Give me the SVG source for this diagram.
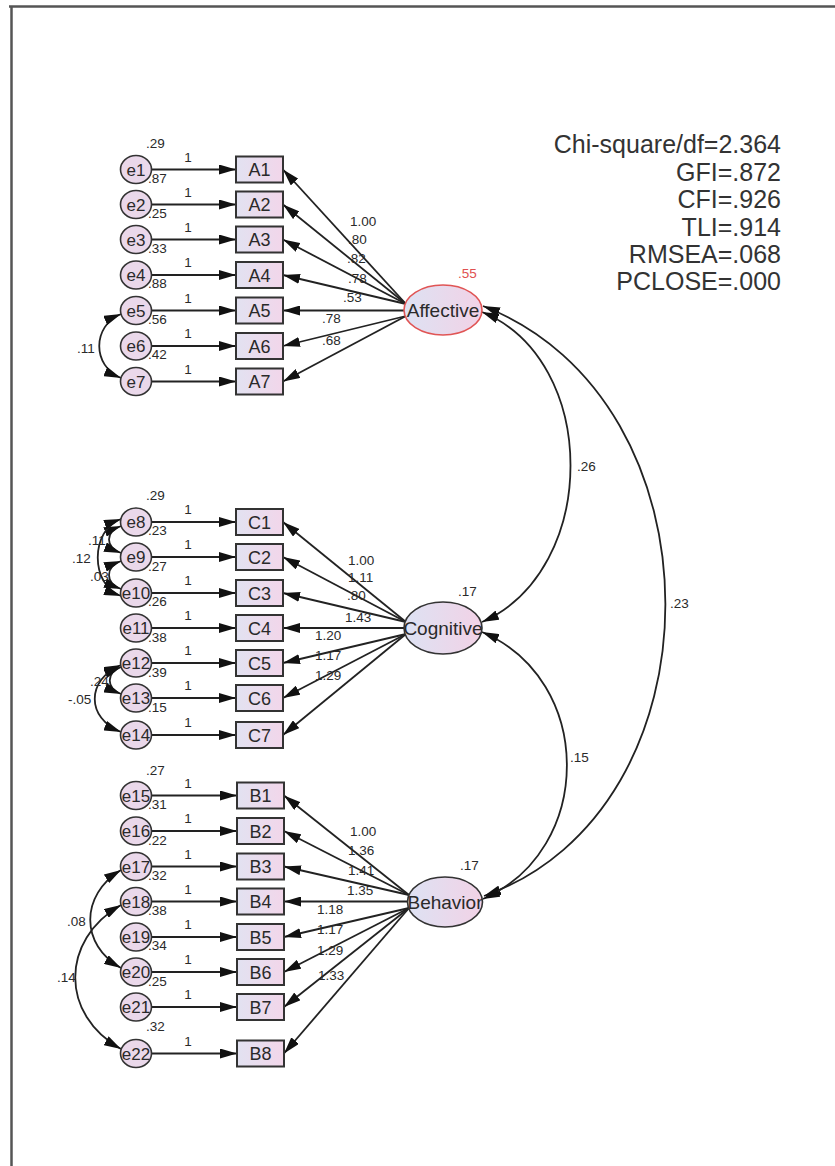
<svg xmlns="http://www.w3.org/2000/svg" width="835" height="1166" viewBox="0 0 835 1166">
<defs>
<style>
.fr{stroke:#555;stroke-width:2.5;fill:none}
.obs{fill:url(#gb);stroke:#333;stroke-width:2}
.err{fill:#ead8ea;stroke:#333;stroke-width:1.6}
.lat{fill:url(#ge);stroke:#333;stroke-width:1.6}
.ln{stroke:#222;stroke-width:1.8;fill:none}
.ah{marker-end:url(#ah)}
.dh{marker-start:url(#ah);marker-end:url(#ah)}
.t{font-family:"Liberation Sans",Arial,sans-serif;fill:#2a2a2a}
.bl{font-size:18px;text-anchor:middle}
.el{font-size:17px;text-anchor:middle}
.ll{font-size:19px;text-anchor:middle}
.sm{font-size:13.5px}
.one{font-size:13.5px;text-anchor:middle}
.st{font-size:25px;text-anchor:end;fill:#333}
.red{fill:#e05050}
</style>
<linearGradient id="gb" x1="0" y1="0" x2="1" y2="0"><stop offset="0" stop-color="#e2e2f1"/><stop offset="1" stop-color="#f2d6ea"/></linearGradient>
<linearGradient id="ge" x1="0" y1="0" x2="1" y2="0"><stop offset="0" stop-color="#dde2f3"/><stop offset="1" stop-color="#f2d2e6"/></linearGradient>
<marker id="ah" viewBox="0 0 17 10" refX="17" refY="5" markerWidth="17" markerHeight="10" markerUnits="userSpaceOnUse" orient="auto-start-reverse"><path d="M0,0 L17,5 L0,10 z" fill="#111"/></marker>
</defs>
<rect width="835" height="1166" fill="#fff"/>
<path class="fr" d="M9,6.5 H835 M11.5,6 V1166"/>

<g id="connectors">
<line class="ln ah" x1="151.5" y1="169.5" x2="236" y2="169.5"/>
<line class="ln ah" x1="151.5" y1="204.5" x2="236" y2="204.5"/>
<line class="ln ah" x1="151.5" y1="239.5" x2="236" y2="239.5"/>
<line class="ln ah" x1="151.5" y1="275" x2="236" y2="275"/>
<line class="ln ah" x1="151.5" y1="310.5" x2="236" y2="310.5"/>
<line class="ln ah" x1="151.5" y1="346" x2="236" y2="346"/>
<line class="ln ah" x1="151.5" y1="381.5" x2="236" y2="381.5"/>
<line class="ln ah" x1="151.5" y1="522" x2="236" y2="522"/>
<line class="ln ah" x1="151.5" y1="557" x2="236" y2="557"/>
<line class="ln ah" x1="151.5" y1="593" x2="236" y2="593"/>
<line class="ln ah" x1="151.5" y1="628" x2="236" y2="628"/>
<line class="ln ah" x1="151.5" y1="663" x2="236" y2="663"/>
<line class="ln ah" x1="151.5" y1="698" x2="236" y2="698"/>
<line class="ln ah" x1="151.5" y1="735" x2="236" y2="735"/>
<line class="ln ah" x1="151.5" y1="795.5" x2="237" y2="795.5"/>
<line class="ln ah" x1="151.5" y1="831" x2="237" y2="831"/>
<line class="ln ah" x1="151.5" y1="866.5" x2="237" y2="866.5"/>
<line class="ln ah" x1="151.5" y1="901.5" x2="237" y2="901.5"/>
<line class="ln ah" x1="151.5" y1="937" x2="237" y2="937"/>
<line class="ln ah" x1="151.5" y1="972" x2="237" y2="972"/>
<line class="ln ah" x1="151.5" y1="1007" x2="237" y2="1007"/>
<line class="ln ah" x1="151.5" y1="1053.5" x2="237" y2="1053.5"/>
<line class="ln ah" x1="406" y1="304" x2="283" y2="169.5"/>
<line class="ln ah" x1="406" y1="304" x2="283" y2="204.5"/>
<line class="ln ah" x1="406" y1="304" x2="283" y2="239.5"/>
<line class="ln ah" x1="406" y1="304" x2="283" y2="275"/>
<line class="ln ah" x1="404" y1="310.5" x2="283" y2="310.5"/>
<line class="ln ah" x1="406" y1="316" x2="283" y2="346"/>
<line class="ln ah" x1="406" y1="316" x2="283" y2="381.5"/>
<line class="ln ah" x1="406" y1="622" x2="283" y2="522"/>
<line class="ln ah" x1="406" y1="622" x2="283" y2="557"/>
<line class="ln ah" x1="406" y1="622" x2="283" y2="593"/>
<line class="ln ah" x1="404" y1="628" x2="283" y2="628"/>
<line class="ln ah" x1="406" y1="634" x2="283" y2="663"/>
<line class="ln ah" x1="406" y1="634" x2="283" y2="698"/>
<line class="ln ah" x1="406" y1="634" x2="283" y2="735"/>
<line class="ln ah" x1="409" y1="895" x2="284" y2="795.5"/>
<line class="ln ah" x1="409" y1="895" x2="284" y2="831"/>
<line class="ln ah" x1="409" y1="895" x2="284" y2="866.5"/>
<line class="ln ah" x1="407.5" y1="901.5" x2="284" y2="901.5"/>
<line class="ln ah" x1="409" y1="908" x2="284" y2="937"/>
<line class="ln ah" x1="409" y1="908" x2="284" y2="972"/>
<line class="ln ah" x1="409" y1="908" x2="284" y2="1007"/>
<line class="ln ah" x1="409" y1="908" x2="284" y2="1053.5"/>
<path class="ln dh" d="M482,312 C600,360 600,570 482,622"/>
<path class="ln dh" d="M483,306 C726,400 726,810 484,896"/>
<path class="ln dh" d="M482,632 C595,680 595,850 483,899"/>
<path class="ln dh" d="M121,314 C92,326 92,366 121,378"/>
<path class="ln dh" d="M121,526 C105,532 105,547 121,553"/>
<path class="ln dh" d="M121,519 C90,530 90,585 121,596"/>
<path class="ln dh" d="M121,561 C105,567 105,583 121,589"/>
<path class="ln dh" d="M121,667 C106,673 106,688 121,694"/>
<path class="ln dh" d="M121,665 C86,680 86,718 121,732"/>
<path class="ln dh" d="M121,870 C80,895 80,945 121,968"/>
<path class="ln dh" d="M121,905 C60,940 60,1015 121,1049"/>
<g class="t one">
<text x="188" y="161.5">1</text><text x="188" y="196.5">1</text><text x="188" y="231.5">1</text><text x="188" y="267">1</text><text x="188" y="302.5">1</text><text x="188" y="338">1</text><text x="188" y="373.5">1</text>
<text x="188" y="514">1</text><text x="188" y="549">1</text><text x="188" y="585">1</text><text x="188" y="620">1</text><text x="188" y="655">1</text><text x="188" y="690">1</text><text x="188" y="727">1</text>
<text x="188" y="787.5">1</text><text x="188" y="823">1</text><text x="188" y="858.5">1</text><text x="188" y="893.5">1</text><text x="188" y="929">1</text><text x="188" y="964">1</text><text x="188" y="999">1</text><text x="188" y="1045.5">1</text>
</g>
<g class="t sm">
<text x="350" y="226">1.00</text><text x="348" y="244">.80</text><text x="347" y="263">.82</text><text x="348" y="283">.78</text><text x="343" y="302">.53</text><text x="322" y="323">.78</text><text x="322" y="345">.68</text>
<text x="348" y="565">1.00</text><text x="348" y="582">1.11</text><text x="347" y="600">.80</text><text x="345" y="622">1.43</text><text x="315" y="640">1.20</text><text x="315" y="660">1.17</text><text x="315" y="680">1.29</text>
<text x="350" y="836">1.00</text><text x="348" y="855">1.36</text><text x="348" y="875">1.41</text><text x="347" y="895">1.35</text><text x="317" y="914">1.18</text><text x="317" y="934">1.17</text><text x="317" y="955">1.29</text><text x="318" y="980">1.33</text>
<text x="577" y="471">.26</text><text x="670" y="608">.23</text><text x="570" y="762">.15</text>
<text x="77" y="353">.11</text>
<text x="88" y="545">.11</text><text x="72" y="563">.12</text><text x="90" y="581">.03</text>
<text x="90" y="686">.24</text><text x="68" y="704">-.05</text>
<text x="67" y="926">.08</text><text x="57" y="982">.14</text>
</g>
</g>

<g id="e1"><ellipse class="err" cx="136" cy="169.5" rx="15.5" ry="14"/><text class="t el" x="136" y="175.5">e1</text><text class="t sm" x="146" y="148">.29</text></g>
<g id="e2"><ellipse class="err" cx="136" cy="204.5" rx="15.5" ry="14"/><text class="t el" x="136" y="210.5">e2</text><text class="t sm" x="148" y="183">.87</text></g>
<g id="e3"><ellipse class="err" cx="136" cy="239.5" rx="15.5" ry="14"/><text class="t el" x="136" y="245.5">e3</text><text class="t sm" x="148" y="218">.25</text></g>
<g id="e4"><ellipse class="err" cx="136" cy="275" rx="15.5" ry="14"/><text class="t el" x="136" y="281">e4</text><text class="t sm" x="148" y="253">.33</text></g>
<g id="e5"><ellipse class="err" cx="136" cy="310.5" rx="15.5" ry="14"/><text class="t el" x="136" y="316.5">e5</text><text class="t sm" x="148" y="288">.88</text></g>
<g id="e6"><ellipse class="err" cx="136" cy="346" rx="15.5" ry="14"/><text class="t el" x="136" y="352">e6</text><text class="t sm" x="148" y="324">.56</text></g>
<g id="e7"><ellipse class="err" cx="136" cy="381.5" rx="15.5" ry="14"/><text class="t el" x="136" y="387.5">e7</text><text class="t sm" x="148" y="359">.42</text></g>
<g id="e8"><ellipse class="err" cx="136" cy="522" rx="15.5" ry="14"/><text class="t el" x="136" y="528">e8</text><text class="t sm" x="146" y="500">.29</text></g>
<g id="e9"><ellipse class="err" cx="136" cy="557" rx="15.5" ry="14"/><text class="t el" x="136" y="563">e9</text><text class="t sm" x="148" y="535">.23</text></g>
<g id="e10"><ellipse class="err" cx="136" cy="593" rx="15.5" ry="14"/><text class="t el" x="136" y="599">e10</text><text class="t sm" x="148" y="571">.27</text></g>
<g id="e11"><ellipse class="err" cx="136" cy="628" rx="15.5" ry="14"/><text class="t el" x="136" y="634">e11</text><text class="t sm" x="148" y="606">.26</text></g>
<g id="e12"><ellipse class="err" cx="136" cy="663" rx="15.5" ry="14"/><text class="t el" x="136" y="669">e12</text><text class="t sm" x="148" y="642">.38</text></g>
<g id="e13"><ellipse class="err" cx="136" cy="698" rx="15.5" ry="14"/><text class="t el" x="136" y="704">e13</text><text class="t sm" x="148" y="677">.39</text></g>
<g id="e14"><ellipse class="err" cx="136" cy="735" rx="15.5" ry="14"/><text class="t el" x="136" y="741">e14</text><text class="t sm" x="148" y="712">.15</text></g>
<g id="e15"><ellipse class="err" cx="136" cy="795.5" rx="15.5" ry="14"/><text class="t el" x="136" y="801.5">e15</text><text class="t sm" x="146" y="775">.27</text></g>
<g id="e16"><ellipse class="err" cx="136" cy="831" rx="15.5" ry="14"/><text class="t el" x="136" y="837">e16</text><text class="t sm" x="148" y="809">.31</text></g>
<g id="e17"><ellipse class="err" cx="136" cy="866.5" rx="15.5" ry="14"/><text class="t el" x="136" y="872.5">e17</text><text class="t sm" x="148" y="845">.22</text></g>
<g id="e18"><ellipse class="err" cx="136" cy="901.5" rx="15.5" ry="14"/><text class="t el" x="136" y="907.5">e18</text><text class="t sm" x="148" y="880">.32</text></g>
<g id="e19"><ellipse class="err" cx="136" cy="937" rx="15.5" ry="14"/><text class="t el" x="136" y="943">e19</text><text class="t sm" x="148" y="915">.38</text></g>
<g id="e20"><ellipse class="err" cx="136" cy="972" rx="15.5" ry="14"/><text class="t el" x="136" y="978">e20</text><text class="t sm" x="148" y="950">.34</text></g>
<g id="e21"><ellipse class="err" cx="136" cy="1007" rx="15.5" ry="14"/><text class="t el" x="136" y="1013">e21</text><text class="t sm" x="148" y="986">.25</text></g>
<g id="e22"><ellipse class="err" cx="136" cy="1053.5" rx="15.5" ry="14"/><text class="t el" x="136" y="1059.5">e22</text><text class="t sm" x="146" y="1031">.32</text></g>

<g id="A1"><rect class="obs" x="236" y="156.5" width="47" height="26"/><text class="t bl" x="259.5" y="176">A1</text></g>
<g id="A2"><rect class="obs" x="236" y="191.5" width="47" height="26"/><text class="t bl" x="259.5" y="211">A2</text></g>
<g id="A3"><rect class="obs" x="236" y="226.5" width="47" height="26"/><text class="t bl" x="259.5" y="246">A3</text></g>
<g id="A4"><rect class="obs" x="236" y="262" width="47" height="26"/><text class="t bl" x="259.5" y="281.5">A4</text></g>
<g id="A5"><rect class="obs" x="236" y="297.5" width="47" height="26"/><text class="t bl" x="259.5" y="317">A5</text></g>
<g id="A6"><rect class="obs" x="236" y="333" width="47" height="26"/><text class="t bl" x="259.5" y="352.5">A6</text></g>
<g id="A7"><rect class="obs" x="236" y="368.5" width="47" height="26"/><text class="t bl" x="259.5" y="388">A7</text></g>
<g id="C1"><rect class="obs" x="236" y="509" width="47" height="26"/><text class="t bl" x="259.5" y="528.5">C1</text></g>
<g id="C2"><rect class="obs" x="236" y="544" width="47" height="26"/><text class="t bl" x="259.5" y="563.5">C2</text></g>
<g id="C3"><rect class="obs" x="236" y="580" width="47" height="26"/><text class="t bl" x="259.5" y="599.5">C3</text></g>
<g id="C4"><rect class="obs" x="236" y="615" width="47" height="26"/><text class="t bl" x="259.5" y="634.5">C4</text></g>
<g id="C5"><rect class="obs" x="236" y="650" width="47" height="26"/><text class="t bl" x="259.5" y="669.5">C5</text></g>
<g id="C6"><rect class="obs" x="236" y="685" width="47" height="26"/><text class="t bl" x="259.5" y="704.5">C6</text></g>
<g id="C7"><rect class="obs" x="236" y="722" width="47" height="26"/><text class="t bl" x="259.5" y="741.5">C7</text></g>
<g id="B1"><rect class="obs" x="237" y="782.5" width="47" height="26"/><text class="t bl" x="260.5" y="802">B1</text></g>
<g id="B2"><rect class="obs" x="237" y="818" width="47" height="26"/><text class="t bl" x="260.5" y="837.5">B2</text></g>
<g id="B3"><rect class="obs" x="237" y="853.5" width="47" height="26"/><text class="t bl" x="260.5" y="873">B3</text></g>
<g id="B4"><rect class="obs" x="237" y="888.5" width="47" height="26"/><text class="t bl" x="260.5" y="908">B4</text></g>
<g id="B5"><rect class="obs" x="237" y="924" width="47" height="26"/><text class="t bl" x="260.5" y="943.5">B5</text></g>
<g id="B6"><rect class="obs" x="237" y="959" width="47" height="26"/><text class="t bl" x="260.5" y="978.5">B6</text></g>
<g id="B7"><rect class="obs" x="237" y="994" width="47" height="26"/><text class="t bl" x="260.5" y="1013.5">B7</text></g>
<g id="B8"><rect class="obs" x="237" y="1040.5" width="47" height="26"/><text class="t bl" x="260.5" y="1060">B8</text></g>

<g id="Affective"><ellipse class="lat" cx="443" cy="310" rx="39" ry="25" style="stroke:#e05555"/><text class="t ll" x="443" y="317">Affective</text><text class="t sm red" x="458" y="278">.55</text></g>
<g id="Cognitive"><ellipse class="lat" cx="443" cy="628" rx="39" ry="26"/><text class="t ll" x="443" y="635">Cognitive</text><text class="t sm" x="458" y="596">.17</text></g>
<g id="Behavior"><ellipse class="lat" cx="445" cy="902" rx="37.5" ry="25"/><text class="t ll" x="445" y="909">Behavior</text><text class="t sm" x="460" y="870">.17</text></g>

<g id="fit" class="t st">
<text x="781" y="153">Chi-square/df=2.364</text>
<text x="781" y="180.5">GFI=.872</text>
<text x="781" y="208">CFI=.926</text>
<text x="781" y="235.5">TLI=.914</text>
<text x="781" y="263">RMSEA=.068</text>
<text x="781" y="290">PCLOSE=.000</text>
</g>
</svg>
